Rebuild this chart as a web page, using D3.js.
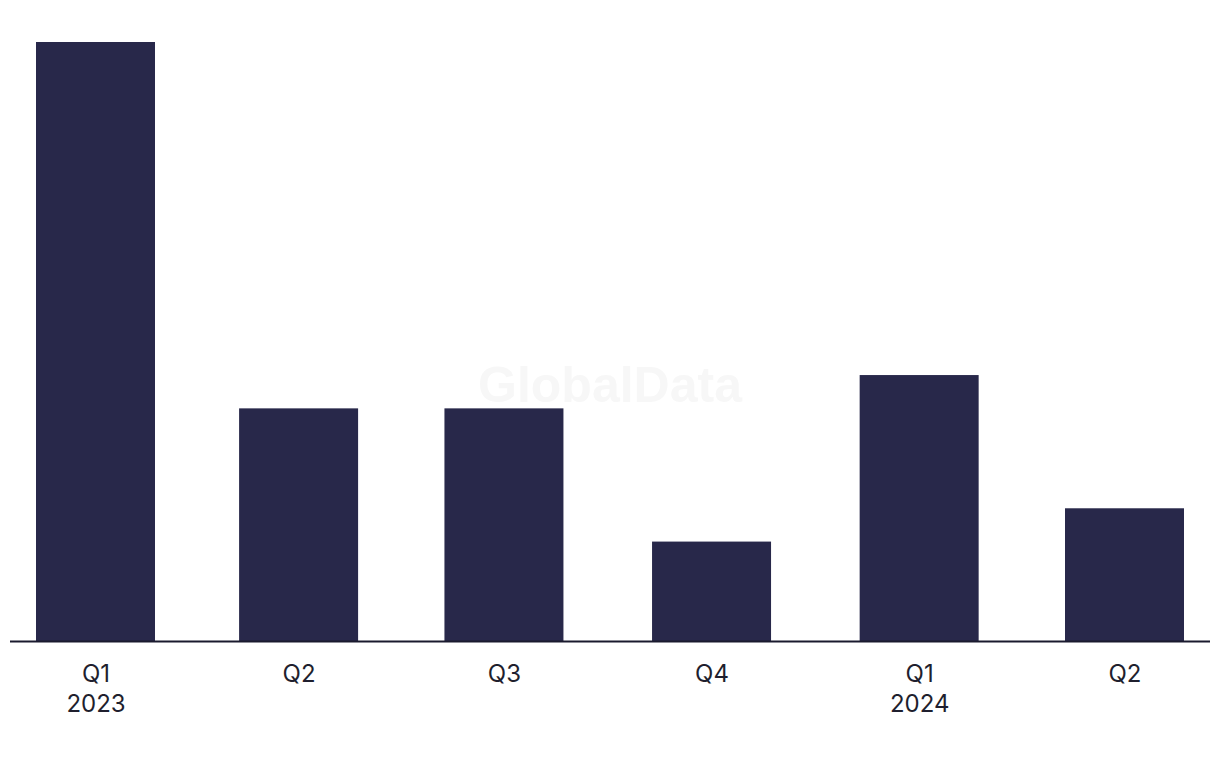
<!DOCTYPE html>
<html>
<head>
<meta charset="utf-8">
<script src="https://cdn.jsdelivr.net/npm/d3@7"></script>
<style>
  html, body { margin: 0; padding: 0; background: #ffffff; }
  svg { display: block; }
</style>
</head>
<body>
<svg id="chart" width="1220" height="768"></svg>
<script>
const quarterStarts = ["2023-01-01", "2023-04-01", "2023-07-01", "2023-10-01", "2024-01-01", "2024-04-01"];
const quarterLabels = ["Q1", "Q2", "Q3", "Q4", "Q1", "Q2"];
const yearLabels = ["2023", "", "", "", "2024", ""];
const values = [18, 7, 7, 3, 8, 4];

const svg = d3.select("#chart");
const baseY = 641.5, topY = 42;
const dates = quarterStarts.map(s => new Date(s + "T00:00:00Z"));

const x = d3.scaleUtc()
  .domain([dates[0], dates[dates.length - 1]])
  .range([95.5, 1124.5]);
const barW = 119;

const y = d3.scaleLinear()
  .domain([0, 18])
  .range([baseY, topY]);

// watermark
svg.append("text")
  .attr("x", 610)
  .attr("y", 402)
  .attr("text-anchor", "middle")
  .attr("font-family", "Liberation Sans, Arial, sans-serif")
  .attr("font-weight", "bold")
  .attr("font-size", 50)
  .attr("fill", "#f7f7f7")
  .text("GlobalData");

svg.append("g")
  .selectAll("rect")
  .data(values)
  .join("rect")
  .attr("x", (d, i) => x(dates[i]) - barW / 2)
  .attr("width", barW)
  .attr("y", d => y(d))
  .attr("height", d => baseY - y(d))
  .attr("fill", "#28284a");

svg.append("line")
  .attr("x1", 10).attr("x2", 1210)
  .attr("y1", baseY).attr("y2", baseY)
  .attr("stroke", "#1a1a2e").attr("stroke-width", 2);

const axis = svg.append("g")
  .attr("transform", `translate(0,${baseY})`)
  .call(d3.axisBottom(x).tickValues(dates).tickSize(0).tickPadding(0).tickFormat(() => ""));
axis.select(".domain").remove();

axis.selectAll(".tick text").remove();
axis.selectAll(".tick").each(function(d, i) {
  const t = d3.select(this).append("text")
    .attr("fill", "#1f1f2e")
    .attr("font-family", "Inter, sans-serif")
    .attr("font-size", 24)
    .attr("text-anchor", "middle");
  t.append("tspan").attr("x", 0).attr("y", 40).text(quarterLabels[i]);
  if (yearLabels[i]) t.append("tspan").attr("x", 0).attr("y", 70).text(yearLabels[i]);
});
</script>
</body>
</html>
